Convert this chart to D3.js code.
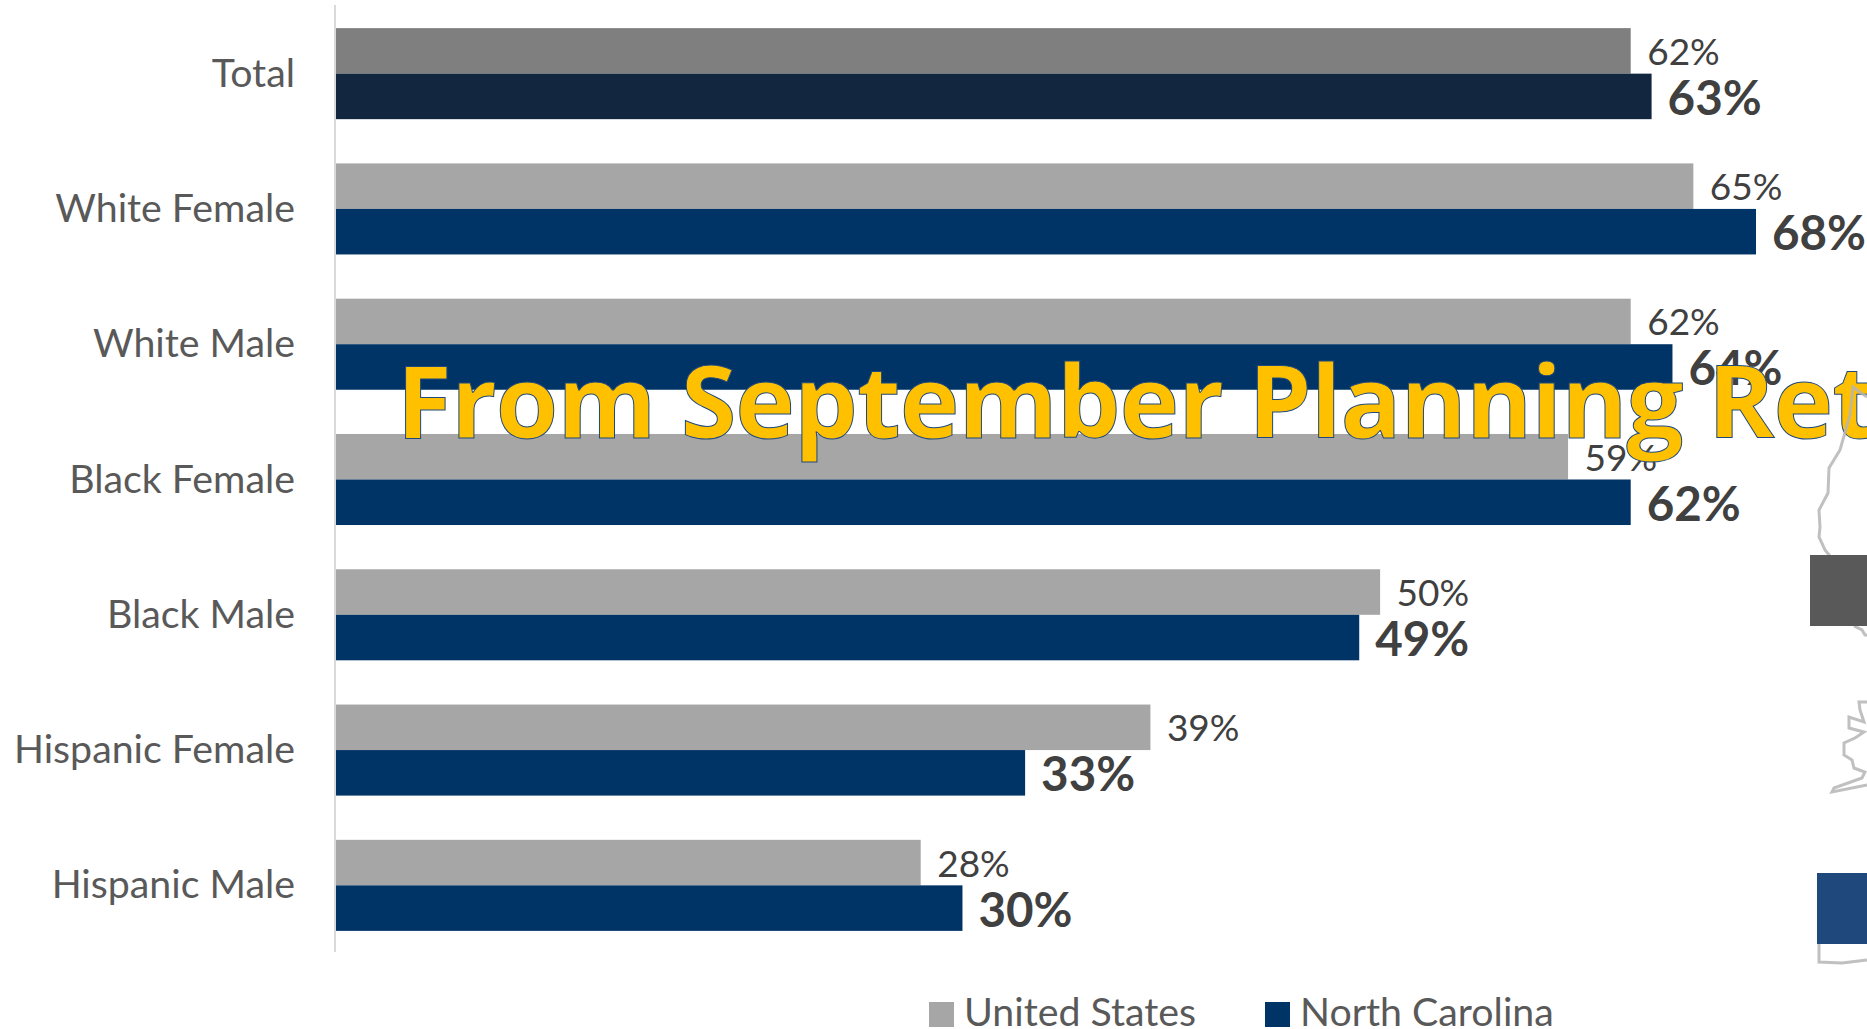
<!DOCTYPE html>
<html><head><meta charset="utf-8">
<script src="https://cdn.jsdelivr.net/npm/d3@7"></script>
<style>html,body{margin:0;padding:0;background:#fff;overflow:hidden}svg{display:block}</style>
</head><body><svg id="c" width="1867" height="1029"></svg>
<script>
const categories = ["Total","White Female","White Male","Black Female","Black Male","Hispanic Female","Hispanic Male"];
const unitedStates = [62,65,62,59,50,39,28];
const northCarolina = [63,68,64,62,49,33,30];
const seriesNames = ["United States","North Carolina"];
const overlayTitle = "From September Planning Retreat";

const svg = d3.select("#c");
const x = d3.scaleLinear().domain([0,68]).range([336,1756]);
const y = d3.scaleBand().domain(categories).range([6,953]).paddingInner(0.327).paddingOuter(0.1635);
const sub = d3.scaleBand().domain([0,1]).range([0,y.bandwidth()]);
const font = "Lato, 'Open Sans', sans-serif";

categories.forEach((c,i)=>{
  const g = svg.append("g");
  const usFill = i===0 ? "#7f7f7f" : "#a6a6a6";
  const ncFill = i===0 ? "#12263f" : "#003366";
  g.append("rect").attr("x",x(0)).attr("y",y(c)+sub(0)).attr("width",x(unitedStates[i])-x(0)).attr("height",sub.bandwidth()).attr("fill",usFill);
  g.append("rect").attr("x",x(0)).attr("y",y(c)+sub(1)).attr("width",x(northCarolina[i])-x(0)).attr("height",sub.bandwidth()).attr("fill",ncFill);
  g.append("text").attr("x",x(unitedStates[i])+16.5).attr("y",y(c)+sub(0)+sub.bandwidth()/2+14)
   .attr("font-family",font).attr("font-size",37).attr("fill","#404040").text(unitedStates[i]+"%");
  g.append("text").attr("x",x(northCarolina[i])+16).attr("y",y(c)+sub(1)+sub.bandwidth()/2+18.5)
   .attr("font-family",font).attr("font-weight",700).attr("font-size",47.5).attr("fill","#404040").text(northCarolina[i]+"%");
  g.append("text").attr("x",295).attr("y",y(c)+y.bandwidth()/2+13).attr("text-anchor","end")
   .attr("font-family",font).attr("font-size",39.3).attr("fill","#595959").text(c);
});
svg.append("line").attr("x1",335).attr("x2",335).attr("y1",5).attr("y2",952).attr("stroke","#d9d9d9").attr("stroke-width",2);

const legendX = [929,1265];
seriesNames.forEach((s,i)=>{
  svg.append("rect").attr("x",legendX[i]).attr("y",1002).attr("width",25).attr("height",25).attr("fill",i?"#003366":"#a6a6a6");
  svg.append("text").attr("x",legendX[i]+35).attr("y",1026).attr("font-family",font).attr("font-size",39.3).attr("fill","#595959").text(s);
});

svg.append("text").attr("x",396.5).attr("y",438).attr("font-family","'Open Sans',Lato,sans-serif").attr("font-weight",700)
  .attr("font-size",101).attr("letter-spacing",-1).attr("fill","#ffc000").attr("stroke","#1f497d").attr("stroke-width",1).text(overlayTitle);

// Partly visible map outline and boxes at the right edge of the slide
const outlines = [
  [[1867,397],[1853,387],[1850,415],[1840,450],[1829,468],[1828,493],[1819,510],[1820,527],[1819,537],[1825,550],[1830,556]],
  [[1854,626],[1862,630],[1865,635],[1867,635]],
  [[1867,702],[1859,702],[1860,710],[1864,722],[1849,717],[1849,728],[1864,732],[1855,738],[1844,743],[1844,755],[1852,760],[1854,768],[1865,772],[1862,778],[1834,788],[1832,792],[1867,785]],
  [[1819,944],[1819,962],[1842,963],[1867,960]]
];
const line = d3.line();
outlines.forEach(o=>svg.append("path").attr("d",line(o)).attr("fill","none").attr("stroke","#b5b5b5").attr("stroke-width",3).attr("stroke-opacity",.85));
svg.append("rect").attr("x",1810).attr("y",555).attr("width",57).attr("height",71).attr("fill","#595959");
svg.append("rect").attr("x",1817).attr("y",873).attr("width",50).attr("height",71).attr("fill","#1f497d");
</script></body></html>
